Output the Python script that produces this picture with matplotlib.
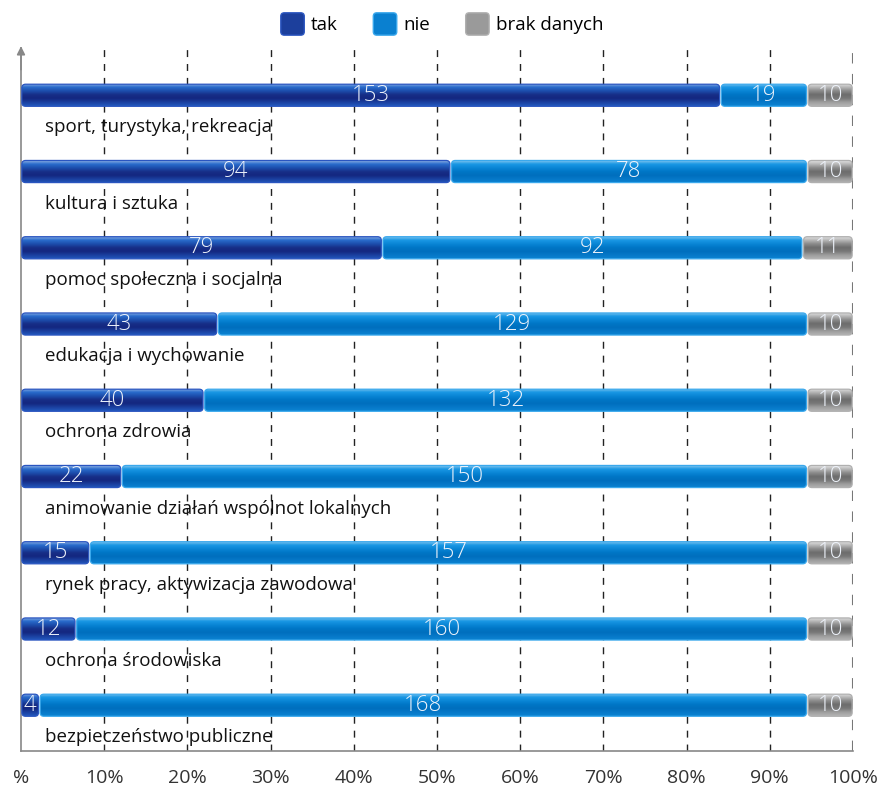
import numpy as np
import matplotlib.pyplot as plt
from matplotlib.patches import Patch, FancyBboxPatch
from matplotlib.legend_handler import HandlerPatch
from matplotlib.colors import LinearSegmentedColormap

categories = [
    "sport, turystyka, rekreacja",
    "kultura i sztuka",
    "pomoc społeczna i socjalna",
    "edukacja i wychowanie",
    "ochrona zdrowia",
    "animowanie działań wspólnot lokalnych",
    "rynek pracy, aktywizacja zawodowa",
    "ochrona środowiska",
    "bezpieczeństwo publiczne",
]
tak = [153, 94, 79, 43, 40, 22, 15, 12, 4]
nie = [19, 78, 92, 129, 132, 150, 157, 160, 168]
brak = [10, 10, 11, 10, 10, 10, 10, 10, 10]
series_names = ["tak", "nie", "brak danych"]
tick_labels = ["%", "10%", "20%", "30%", "40%", "50%", "60%", "70%", "80%", "90%", "100%"]

# gradient stops top -> bottom for each series
grads = [
    ["#9ab8e6", "#2a6ccc", "#1d4fae", "#172f88", "#142780", "#1a3f9e", "#2258bd"],
    ["#8ccaf0", "#1a98e4", "#0a86d6", "#0076c6", "#006fbe", "#0678c8", "#0c84d2"],
    ["#e6e6e6", "#b8b8b8", "#8c8c8c", "#6c6c6c", "#787878", "#9c9c9c", "#b4b4b4"],
]
mid_colors = ["#1c3f9c", "#0a80d0", "#9a9a9a"]
edge_colors = ["#2a55c0", "#3aa8ec", "#b0b0b0"]

plt.rcParams['font.family'] = ['Open Sans', 'DejaVu Sans']

data = np.array([tak, nie, brak], dtype=float)
pct = data / data.sum(axis=0) * 100

fig = plt.figure(figsize=(8.83, 7.92), dpi=100)
ax = fig.add_axes([21 / 883, 1 - 751 / 792, 832 / 883, 703 / 792])

y = np.arange(len(categories))
bar_h = 0.29
aspect = (832 / 100) / (703 / 9.22)
left = np.zeros(len(categories))
for s in range(3):
    cmap = LinearSegmentedColormap.from_list("g%d" % s, grads[s])
    grad = np.linspace(0, 1, 64).reshape(-1, 1)
    bars = ax.barh(y, pct[s], left=left, height=bar_h, color="none", linewidth=0)
    for rect, v, w, l in zip(bars, data[s], pct[s], left):
        x0, y0 = rect.get_x() + 0.1, rect.get_y()
        bw, bh = rect.get_width() - 0.2, rect.get_height()
        box = FancyBboxPatch((x0, y0), bw, bh, boxstyle="round,pad=0,rounding_size=0.45",
                             mutation_aspect=aspect, facecolor="none",
                             edgecolor=edge_colors[s], linewidth=0.9, zorder=3)
        ax.add_patch(box)
        im = ax.imshow(grad, cmap=cmap, aspect="auto", zorder=2,
                       extent=[x0, x0 + bw, y0, y0 + bh],
                       origin="lower", interpolation="bilinear")
        im.set_clip_path(box)
        ax.text(l + w / 2, y0 + bh / 2, "%d" % v,
                ha="center", va="center", color="#eef3fb", fontsize=16,
                fontweight="light", zorder=4)
    left = left + pct[s]

for i, c in enumerate(categories):
    ax.text(2.9, i + 0.42, c, ha="left", va="center", fontsize=13.5,
            color="#111111", zorder=4)

ax.set_xlim(0, 100)
ax.set_ylim(8.6, -0.62)
ax.set_xticks(np.arange(0, 101, 10))
ax.set_xticklabels(tick_labels, fontsize=14, color="#333333")
ax.tick_params(axis="x", length=0, pad=13)
ax.set_yticks([])
for xv in range(10, 101, 10):
    ax.axvline(xv, color="#222222" if xv < 100 else "#777777", linestyle=(0, (5, 5)),
               linewidth=1.0 if xv < 100 else 1.5, zorder=1)

for sp in ["top", "right"]:
    ax.spines[sp].set_visible(False)
ax.spines["left"].set_color("#888888")
ax.spines["bottom"].set_color("#888888")
ax.spines["left"].set_linewidth(1.2)
ax.spines["bottom"].set_linewidth(1.2)
ax.annotate("", xy=(0, -0.68), xytext=(0, -0.3), xycoords="data",
            arrowprops=dict(arrowstyle="-|>", color="#888888", lw=1.2,
                            mutation_scale=12), annotation_clip=False)


class RoundHandler(HandlerPatch):
    def create_artists(self, legend, orig_handle, xdescent, ydescent,
                       width, height, fontsize, trans):
        p = FancyBboxPatch((-xdescent, -ydescent - 2), width, height + 4,
                           boxstyle="round,pad=0,rounding_size=2.5",
                           facecolor=orig_handle.get_facecolor(),
                           edgecolor=orig_handle.get_edgecolor(), linewidth=1,
                           transform=trans)
        return [p]


handles = [Patch(facecolor=mid_colors[k], edgecolor=edge_colors[k], label=series_names[k])
           for k in range(3)]
fig.legend(handles=handles, loc="center", bbox_to_anchor=(442 / 883, 1 - 25 / 792),
           ncol=3, frameon=False, fontsize=13.5, handlelength=1.25, handleheight=1.0,
           columnspacing=1.9, handletextpad=0.35,
           handler_map={Patch: RoundHandler()})

fig.savefig("out.png", dpi=100)
